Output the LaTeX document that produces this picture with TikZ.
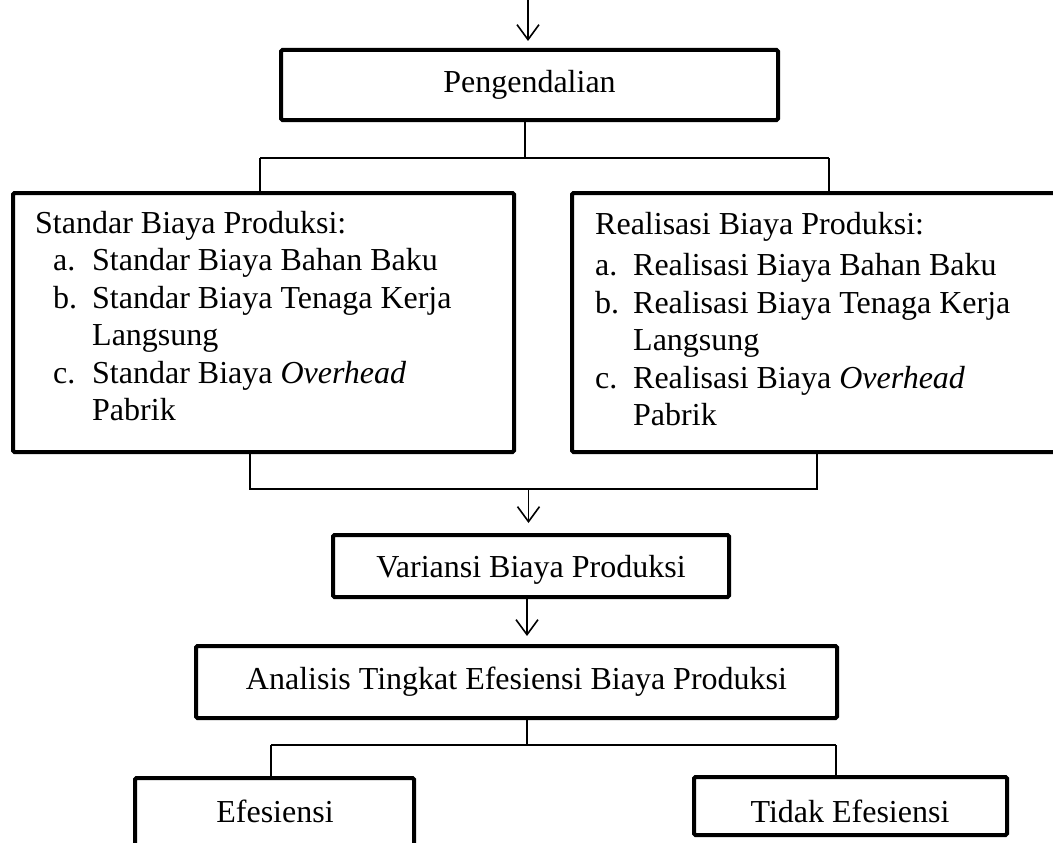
\documentclass[tikz,border=0pt]{standalone}
\usepackage{fontspec}
\setmainfont{Liberation Serif}
\usetikzlibrary{arrows.meta}
\begin{document}
\begin{tikzpicture}[x=1pt,y=-1pt,
  box/.style={draw, line width=4pt, rectangle, inner sep=0pt, rounded corners=1.5pt,
              font=\fontsize{32}{37.5}\selectfont},
  lbl/.style={inner sep=0pt, font=\fontsize{32}{37.5}\selectfont},
  conn/.style={line width=1.3pt},
  arr/.style={line width=1.6pt, -{Straight Barb[length=15pt,width=22pt]}},
]
\useasboundingbox (0,0) rectangle (1053,843);
\clip (0,0) rectangle (1053,843);

% boxes
\node[box, minimum width=497pt, minimum height=70pt] (peng) at (529.5,85) {Pengendalian};
\node[box, minimum width=501pt, minimum height=259pt] (lbox) at (263.5,322.5) {};
\node[box, minimum width=514pt, minimum height=259pt] (rbox) at (829,322.5) {};
\node[box, minimum width=396pt, minimum height=62pt, text height=26pt, text depth=4pt] (var) at (531,566) {Variansi Biaya Produksi};
\node[box, minimum width=641pt, minimum height=72pt] (ana) at (516.5,682) {Analisis Tingkat Efesiensi Biaya Produksi};
\node[box, minimum width=279pt, minimum height=92pt] (efe) at (274.5,824) {};
\node[box, minimum width=313pt, minimum height=58pt] (tid) at (850.5,806) {};
\node[lbl, anchor=base] (efet) at (275,822) {Efesiensi};
\node[lbl, anchor=base] (tidt) at (850,822) {Tidak Efesiensi};

% box texts
\node[lbl, anchor=base west] (ltxt) at (35,233) {\begin{tabular}[t]{@{}l@{}}
Standar Biaya Produksi:\\
\makebox[57pt][l]{\hspace{18pt}a.}Standar Biaya Bahan Baku\\
\makebox[57pt][l]{\hspace{18pt}b.}Standar Biaya Tenaga Kerja\\
\hspace*{57pt}Langsung\\
\makebox[57pt][l]{\hspace{18pt}c.}Standar Biaya \textit{Overhead}\\
\hspace*{57pt}Pabrik
\end{tabular}};
\node[lbl, anchor=base west] (rtxt) at (595,234) {\begin{tabular}[t]{@{}l@{}}
Realisasi Biaya Produksi:\\[4pt]
\makebox[38pt][l]{a.}Realisasi Biaya Bahan Baku\\
\makebox[38pt][l]{b.}Realisasi Biaya Tenaga Kerja\\
\hspace*{38pt}Langsung\\
\makebox[38pt][l]{c.}Realisasi Biaya \textit{Overhead}\\
\hspace*{38pt}Pabrik
\end{tabular}};

% connectors
\coordinate (topin) at (528,0);
\draw[arr, shorten >=7pt] (topin) -- (topin |- peng.north);

\coordinate (j1) at (525,158);
\coordinate (j1l) at (260,158);
\coordinate (j1r) at (829,158);
\draw[conn] (j1 |- peng.south) -- (j1);
\draw[conn] (j1l) -- (j1r);
\draw[conn] (j1l) -- (j1l |- lbox.north);
\draw[conn] (j1r) -- (j1r |- rbox.north);

\coordinate (j2l) at (250,489);
\coordinate (j2r) at (817,489);
\coordinate (j2) at (528.5,489);
\draw[conn] (j2l |- lbox.south) -- (j2l) -- (j2r) -- (j2r |- rbox.south);
\draw[arr, shorten >=10pt] (j2) -- (j2 |- var.north);

\coordinate (j3) at (527,597);
\draw[arr, shorten >=8pt] (j3 |- var.south) -- (j3 |- ana.north);

\coordinate (j4) at (527,745);
\coordinate (j4l) at (271,745);
\coordinate (j4r) at (836,745);
\draw[conn] (j4 |- ana.south) -- (j4);
\draw[conn] (j4l) -- (j4r);
\draw[conn] (j4l) -- (j4l |- efe.north);
\draw[conn] (j4r) -- (j4r |- tid.north);
\end{tikzpicture}
\end{document}
